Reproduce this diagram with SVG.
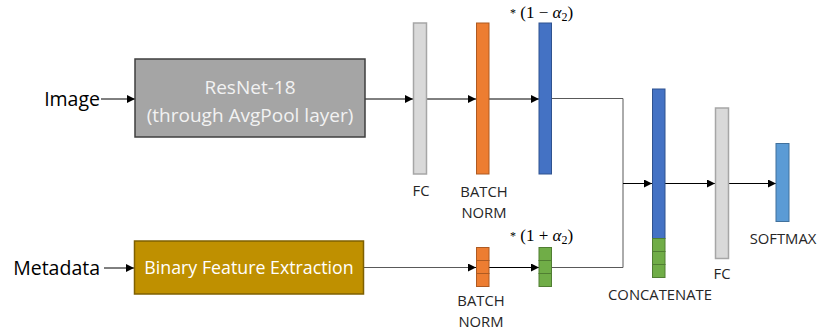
<svg xmlns="http://www.w3.org/2000/svg" width="817" height="331" viewBox="0 0 817 331">
<defs>
<marker id="ah" viewBox="0 0 10 10" refX="10" refY="5" markerWidth="8" markerHeight="8" markerUnits="userSpaceOnUse" orient="auto">
<path d="M0,0 L10,5 L0,10 z" fill="#000"/>
</marker>
<style>
.lbl{font-family:"Open Sans","Noto Sans",sans-serif;fill:#000}
.small{font-family:"Open Sans","Noto Sans",sans-serif;font-size:14.8px;fill:#262626;text-anchor:middle}
.math{font-family:"Liberation Serif","DejaVu Serif",serif;font-size:17px;fill:#000}
.box-t{font-family:"Open Sans","Noto Sans",sans-serif;font-size:19px;text-anchor:middle}
.fc{fill:#d9d9d9;stroke:#a6a6a6;stroke-width:1.5}
.bn{fill:#ed7d31;stroke:#ae5a21;stroke-width:1}
.bl{fill:#4472c4;stroke:#2f528f;stroke-width:1}
.gr{fill:#70ad47;stroke:#507e32;stroke-width:1}
.sm{fill:#5b9bd5;stroke:#41719c;stroke-width:1}
.arr{stroke:#000;stroke-width:1;fill:none;marker-end:url(#ah)}
.ln{stroke:#595959;stroke-width:1;fill:none}
</style>
</defs>
<g id="connectors">
<path class="arr" d="M101,99 H135"/>
<path class="arr" d="M365,99 H413"/>
<path class="arr" d="M427,99 H476"/>
<path class="arr" d="M489,99 H539"/>
<path class="ln" d="M552,98.5 H623 V267.5 H552"/>
<path class="arr" d="M623,183.5 H652"/>
<path class="arr" d="M104,268 H134"/>
<path class="ln" d="M364,267.5 H470"/>
<path class="arr" d="M468,267.5 H476"/>
<path class="arr" d="M489,267.5 H539"/>
<path class="arr" d="M665,183.5 H715"/>
<path class="arr" d="M728,183.5 H776"/>
</g>
<g id="image-label"><text class="lbl" x="100" y="106" font-size="19.5" text-anchor="end">Image</text></g>
<g id="metadata-label"><text class="lbl" x="100" y="275" font-size="19.5" text-anchor="end">Metadata</text></g>
<g id="resnet">
<rect x="135" y="59" width="230" height="78" fill="#a5a5a5" stroke="#3f3f3f" stroke-width="1.5"/>
<text class="box-t" x="250" y="94" fill="#f2f2f2">ResNet-18</text>
<text class="box-t" x="250" y="122" fill="#f2f2f2">(through AvgPool layer)</text>
</g>
<g id="bfe">
<rect x="134.5" y="241" width="229" height="53" fill="#bf9000" stroke="#7f6000" stroke-width="1.5"/>
<text class="box-t" x="249" y="274" fill="#ffffff" style="font-size:17.8px">Binary Feature Extraction</text>
</g>
<g id="fc1">
<rect class="fc" x="413.5" y="23" width="13" height="151"/>
<text class="small" x="421" y="196">FC</text>
</g>
<g id="bn1">
<rect class="bn" x="476.5" y="23" width="12.5" height="151"/>
<text class="small" x="484" y="197">BATCH</text>
<text class="small" x="484" y="218">NORM</text>
</g>
<g id="scale1">
<rect class="bl" x="539" y="23" width="12.5" height="151"/>
<text class="math" x="510" y="18"><tspan font-size="12" dy="-1">*</tspan><tspan dy="1"> (1 − </tspan><tspan font-style="italic">α</tspan><tspan font-size="12" dy="3">2</tspan><tspan dy="-3">)</tspan></text>
</g>
<g id="bn2">
<rect class="bn" x="476.5" y="247.5" width="12.5" height="13"/>
<rect class="bn" x="476.5" y="260.5" width="12.5" height="13"/>
<rect class="bn" x="476.5" y="273.5" width="12.5" height="13"/>
<text class="small" x="481" y="306">BATCH</text>
<text class="small" x="481" y="327">NORM</text>
</g>
<g id="scale2">
<rect class="gr" x="539" y="247.5" width="12.5" height="13"/>
<rect class="gr" x="539" y="260.5" width="12.5" height="13"/>
<rect class="gr" x="539" y="273.5" width="12.5" height="13"/>
<text class="math" x="510" y="241"><tspan font-size="12" dy="-1">*</tspan><tspan dy="1"> (1 + </tspan><tspan font-style="italic">α</tspan><tspan font-size="12" dy="3">2</tspan><tspan dy="-3">)</tspan></text>
</g>
<g id="concat">
<rect class="bl" x="652.5" y="89" width="12.5" height="149.5"/>
<rect class="gr" x="652.5" y="238.5" width="12.5" height="13"/>
<rect class="gr" x="652.5" y="251.5" width="12.5" height="13"/>
<rect class="gr" x="652.5" y="264.5" width="12.5" height="13"/>
<text class="small" x="660" y="300">CONCATENATE</text>
</g>
<g id="fc2">
<rect class="fc" x="715.5" y="108" width="13" height="150.5"/>
<text class="small" x="722" y="279">FC</text>
</g>
<g id="softmax">
<rect class="sm" x="776" y="143.5" width="13" height="78"/>
<text class="small" x="783" y="244">SOFTMAX</text>
</g>
</svg>
